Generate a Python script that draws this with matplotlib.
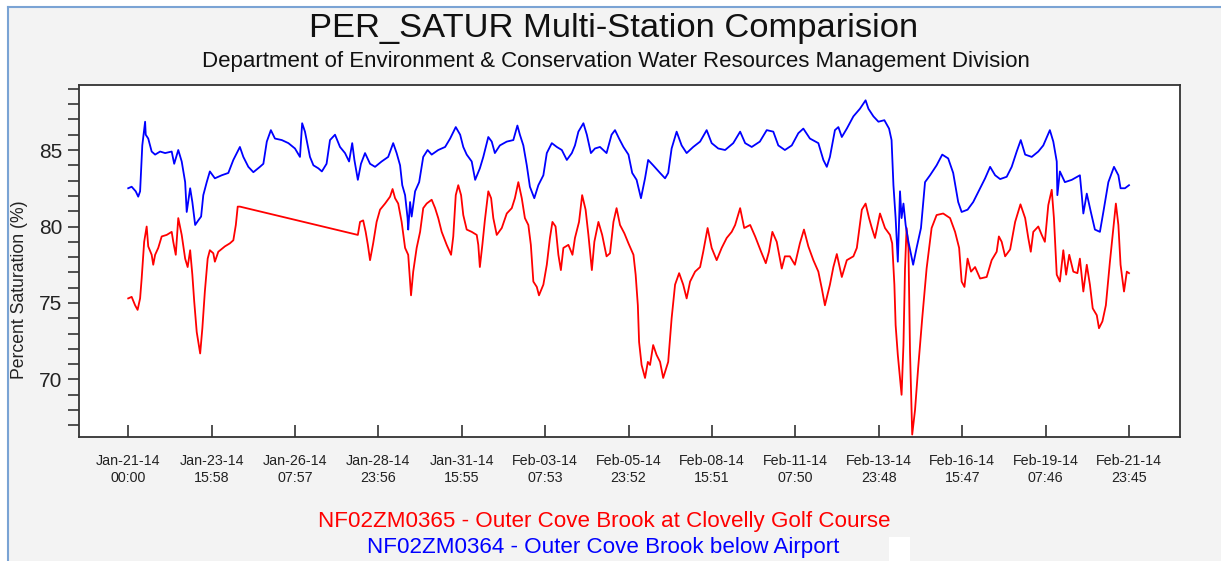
import matplotlib
matplotlib.use("Agg")
import matplotlib.pyplot as plt
from matplotlib.patches import Rectangle
from matplotlib.lines import Line2D
from matplotlib.ticker import MultipleLocator, FixedLocator

# ---------------- data (days since Jan-21-14 00:00, % saturation) ----------------
red_days = [0.00, 0.11, 0.22, 0.30, 0.38, 0.43, 0.51, 0.59, 0.64, 0.75, 0.80, 0.86, 0.96, 1.07, 1.23,
            1.39, 1.44, 1.52, 1.60, 1.71, 1.82, 1.90, 1.98, 2.05, 2.11, 2.19, 2.30, 2.37, 2.45, 2.54,
            2.61, 2.72, 2.77, 2.88, 3.09, 3.25, 3.36, 3.44, 3.50, 3.57,
            7.34, 7.41, 7.51, 7.59, 7.66, 7.73, 7.83, 7.94, 8.05, 8.21, 8.37, 8.45, 8.53, 8.63, 8.74,
            8.85, 8.95, 9.04, 9.11, 9.22, 9.33, 9.43, 9.54, 9.70, 9.81, 9.91, 10.02, 10.18, 10.32,
            10.39, 10.47, 10.55, 10.64, 10.71, 10.82, 10.98, 11.14, 11.19, 11.24, 11.32, 11.40,
            11.51, 11.60, 11.67, 11.78, 11.94, 12.10, 12.26, 12.36, 12.47, 12.58, 12.68, 12.79,
            12.87, 12.95, 13.06, 13.13, 13.27, 13.38, 13.48, 13.56, 13.66, 13.75, 13.83, 13.91,
            14.07, 14.20, 14.28, 14.41, 14.51, 14.62, 14.71, 14.82, 14.90, 15.03, 15.15, 15.29,
            15.40, 15.51, 15.61, 15.72, 15.86, 15.99, 16.15, 16.22, 16.29, 16.33, 16.41, 16.52,
            16.61, 16.68, 16.78, 16.89, 17.00, 17.10, 17.26, 17.37, 17.48, 17.61, 17.74, 17.85,
            17.96, 18.12, 18.28, 18.38, 18.52, 18.65, 18.81, 18.97, 19.13, 19.29, 19.40, 19.56,
            19.69, 19.88, 20.04, 20.23, 20.38, 20.48, 20.59, 20.73, 20.89, 20.99, 21.15, 21.31,
            21.47, 21.60, 21.74, 21.90, 22.06, 22.17, 22.27, 22.43, 22.54, 22.65, 22.81, 22.97,
            23.18, 23.29, 23.45, 23.57, 23.68, 23.77, 23.87, 24.03, 24.19, 24.35, 24.42, 24.49,
            24.53, 24.60, 24.72, 24.78, 24.83, 24.88, 24.94, 24.99, 25.06, 25.15, 25.25, 25.38,
            25.52, 25.68, 25.84, 26.05, 26.27, 26.43, 26.56, 26.64, 26.73, 26.83, 26.94, 27.07,
            27.23, 27.44, 27.60, 27.76, 27.83, 27.92, 28.03, 28.19, 28.35, 28.52, 28.67, 28.77,
            28.85, 28.93, 29.09, 29.20, 29.30, 29.41, 29.52, 29.59, 29.68, 29.78, 29.89, 29.98,
            30.08, 30.21, 30.34, 30.42, 30.53, 30.64, 30.74, 30.83, 30.96, 31.03, 31.14, 31.25,
            31.38, 31.49, 31.57, 31.65, 31.72, 31.83, 31.92, 31.99]
red_vals = [75.3, 75.4, 74.85, 74.55, 75.3, 76.6, 79.0, 80.0, 78.7, 78.15, 77.5, 78.15, 78.6, 79.35, 79.45,
            79.65, 79.0, 78.15, 80.55, 79.45, 77.9, 77.35, 78.45, 76.85, 75.1, 73.1, 71.7, 73.35, 75.75, 77.9,
            78.45, 78.25, 77.7, 78.35, 78.7, 78.9, 79.1, 80.1, 81.3, 81.3,
            79.45, 80.3, 80.4, 79.65, 78.8, 77.8, 78.9, 80.3, 81.1, 81.5, 81.95, 82.45, 81.85, 81.5, 80.3,
            78.6, 78.15, 75.5, 77.05, 78.6, 79.65, 81.2, 81.5, 81.75, 81.2, 80.55, 79.65, 78.8, 78.15,
            79.35, 82.05, 82.7, 82.05, 80.75, 79.8, 79.65, 79.45, 78.8, 77.35, 78.8, 80.4,
            82.3, 81.85, 80.55, 79.45, 79.9, 80.85, 81.2, 81.85, 82.9, 81.85, 80.55, 80.1,
            78.8, 76.4, 76.05, 75.5, 76.2, 77.5, 79.25, 80.3, 80.0, 78.15, 77.15, 78.6,
            78.8, 78.15, 79.25, 80.3, 82.05, 81.1, 79.45, 77.15, 79.0, 80.3, 79.45, 78.05,
            78.25, 80.3, 81.2, 80.1, 79.55, 78.9, 78.15, 76.85, 74.85, 72.45, 70.95, 70.1,
            71.15, 70.95, 72.25, 71.6, 71.15, 70.1, 71.15, 74.0, 76.2, 76.95, 76.2, 75.3,
            76.4, 77.05, 77.35, 78.35, 79.9, 78.6, 77.8, 78.6, 79.25, 79.65, 80.1, 81.2,
            79.9, 80.1, 79.35, 78.35, 77.6, 78.35, 79.65, 79.0, 77.25, 78.05, 78.05, 77.5,
            78.9, 79.8, 78.7, 77.8, 77.05, 75.95, 74.85, 76.2, 77.35, 78.2, 76.7, 77.8,
            78.05, 78.6, 81.1, 81.5, 80.55, 79.9, 79.25, 80.85, 79.9, 79.45, 78.9, 76.2,
            73.55, 71.6, 69.0, 72.25, 77.25, 79.9, 78.6, 71.8, 66.4, 68.0, 70.75, 74.0,
            77.25, 79.9, 80.75, 80.85, 80.55, 79.65, 78.6, 76.4, 76.05, 77.9, 77.05, 77.35,
            76.6, 76.7, 77.8, 78.35, 79.35, 79.0, 78.05, 78.5, 80.3, 81.45, 80.55, 79.25,
            78.35, 79.65, 80.0, 79.45, 79.0, 81.4, 82.4, 80.55, 76.85, 76.4, 78.45, 76.85,
            78.15, 77.05, 76.95, 77.9, 75.75, 77.5, 76.2, 74.65, 74.2, 73.35, 73.8, 74.85,
            77.7, 79.9, 81.5, 80.1, 77.5, 75.75, 77.05, 76.95]

blue_days = [0.00, 0.11, 0.24, 0.32, 0.38, 0.41, 0.45, 0.54, 0.56, 0.64, 0.75, 0.86, 1.02, 1.18, 1.39,
             1.47, 1.60, 1.71, 1.82, 1.87, 1.98, 2.05, 2.14, 2.24, 2.33, 2.40, 2.51, 2.61, 2.77, 2.99,
             3.20, 3.36, 3.47, 3.57, 3.68, 3.84, 4.00, 4.21, 4.32, 4.43, 4.56, 4.69, 4.91, 5.12, 5.33,
             5.49, 5.56, 5.65, 5.81, 5.92, 6.08, 6.19, 6.34, 6.45, 6.61, 6.77, 6.93, 7.06, 7.16, 7.23,
             7.34, 7.44, 7.57, 7.73, 7.89, 8.10, 8.31, 8.47, 8.58, 8.69, 8.76, 8.85, 8.93, 8.95, 9.01,
             9.06, 9.17, 9.30, 9.43, 9.57, 9.70, 9.91, 10.13, 10.29, 10.47, 10.61, 10.71, 10.82, 10.98,
             11.09, 11.24, 11.35, 11.51, 11.62, 11.72, 11.88, 12.10, 12.31, 12.44, 12.52, 12.63, 12.74,
             12.84, 12.98, 13.11, 13.27, 13.38, 13.54, 13.70, 13.86, 14.02, 14.18, 14.28, 14.39, 14.55,
             14.66, 14.79, 14.92, 15.08, 15.29, 15.45, 15.56, 15.69, 15.83, 15.99, 16.11, 16.25, 16.39,
             16.52, 16.62, 16.78, 17.00, 17.16, 17.26, 17.37, 17.53, 17.69, 17.85, 18.06, 18.28, 18.49,
             18.65, 18.86, 19.08, 19.34, 19.56, 19.72, 19.93, 20.19, 20.41, 20.62, 20.78, 20.99, 21.21,
             21.42, 21.58, 21.79, 22.06, 22.22, 22.33, 22.43, 22.59, 22.70, 22.81, 22.97, 23.18, 23.39,
             23.57, 23.66, 23.82, 23.98, 24.17, 24.32, 24.40, 24.46, 24.53, 24.60, 24.67, 24.72, 24.78,
             24.85, 24.94, 25.09, 25.20, 25.34, 25.47, 25.63, 25.84, 26.02, 26.21, 26.37, 26.53, 26.64,
             26.83, 27.01, 27.23, 27.39, 27.55, 27.71, 27.87, 28.08, 28.24, 28.40, 28.53, 28.67, 28.88,
             29.09, 29.25, 29.46, 29.57, 29.68, 29.70, 29.78, 29.94, 30.16, 30.42, 30.48, 30.53, 30.64,
             30.77, 30.90, 31.06, 31.17, 31.33, 31.51, 31.65, 31.72, 31.86, 31.99]
blue_vals = [82.5, 82.6, 82.3, 81.95, 82.3, 83.6, 85.3, 86.85, 86.0, 85.75, 84.9, 84.7, 84.9, 84.8, 84.9,
             84.1, 85.0, 84.25, 82.9, 80.95, 82.5, 81.6, 80.1, 80.4, 80.65, 82.05, 82.9, 83.6, 83.15, 83.35,
             83.5, 84.35, 84.8, 85.2, 84.55, 83.9, 83.55, 83.9, 84.1, 85.55, 86.3, 85.75, 85.65, 85.45, 85.1,
             84.55, 86.75, 86.2, 84.55, 84.0, 83.8, 83.6, 84.1, 85.65, 86.0, 85.2, 84.8, 84.25, 85.45, 84.35,
             83.05, 84.1, 84.8, 84.1, 83.9, 84.25, 84.55, 85.45, 84.8, 84.0, 82.7, 82.05, 80.55, 79.8, 81.6,
             80.65, 82.3, 82.9, 84.55, 85.0, 84.7, 85.0, 85.2, 85.75, 86.5, 86.0, 85.2, 84.7, 84.25,
             83.05, 83.8, 84.55, 85.85, 85.55, 84.8, 85.3, 85.55, 85.65, 86.6, 86.0, 85.3, 84.0,
             82.6, 81.85, 82.7, 83.35, 84.8, 85.45, 85.2, 85.0, 84.35, 84.8, 85.3, 86.2, 86.75,
             86.0, 84.8, 85.1, 85.2, 84.8, 86.0, 86.3, 85.75, 85.2, 84.7, 83.5, 83.05, 81.85,
             83.15, 84.35, 84.0, 83.5, 83.15, 83.5, 85.1, 86.2, 85.3, 84.8, 85.2, 85.55, 86.3,
             85.45, 85.1, 85.0, 85.45, 86.2, 85.45, 85.2, 85.55, 86.3, 86.2, 85.3, 85.0, 85.3,
             86.1, 86.4, 85.75, 85.45, 84.35, 83.9, 84.55, 86.3, 86.5, 85.85, 86.4, 87.2, 87.7,
             88.25, 87.7, 87.2, 86.85, 86.95, 86.4, 85.65, 82.7, 80.55, 77.7, 82.3, 80.55, 81.5,
             80.1, 79.0, 77.5, 78.6, 79.9, 82.9, 83.35, 84.0, 84.7, 84.45, 83.5, 81.6, 80.95,
             81.1, 81.6, 82.5, 83.15, 83.9, 83.35, 83.1, 83.25, 83.9, 84.9, 85.65, 84.7, 84.55,
             84.9, 85.3, 86.3, 85.55, 84.25, 82.05, 83.6, 82.9, 83.05, 83.35, 82.05, 80.85, 82.15,
             80.95, 79.8, 79.65, 80.95, 82.9, 83.9, 83.35, 82.5, 82.5, 82.7]

x_tick_labels = ["Jan-21-14\n00:00", "Jan-23-14\n15:58", "Jan-26-14\n07:57", "Jan-28-14\n23:56",
                 "Jan-31-14\n15:55", "Feb-03-14\n07:53", "Feb-05-14\n23:52", "Feb-08-14\n15:51",
                 "Feb-11-14\n07:50", "Feb-13-14\n23:48", "Feb-16-14\n15:47", "Feb-19-14\n07:46",
                 "Feb-21-14\n23:45"]
span_days = 31.9896  # Jan-21-14 00:00 -> Feb-21-14 23:45
y_major = [70, 75, 80, 85]

title = "PER_SATUR Multi-Station Comparision"
subtitle = "Department of Environment & Conservation Water Resources Management Division"
red_name = "NF02ZM0365 - Outer Cove Brook at Clovelly Golf Course"
blue_name = "NF02ZM0364 - Outer Cove Brook below Airport"

# ---------------- figure ----------------
plt.rcParams['font.family'] = ['Liberation Sans', 'DejaVu Sans']
W, H = 1221, 561
fig = plt.figure(figsize=(W / 100, H / 100), dpi=100)
fig.patch.set_facecolor("white")

# panel background with blue border (top & left)
fig.patches.append(Rectangle((8 / W, 0), 1 - 8 / W, 1 - 7 / H, transform=fig.transFigure,
                             facecolor="#f3f3f3", edgecolor="none", zorder=-10))
fig.lines.append(Line2D([8 / W, 1], [1 - 7 / H, 1 - 7 / H], transform=fig.transFigure,
                        color="#7aa3d4", lw=1.5))
fig.lines.append(Line2D([8 / W, 8 / W], [0, 1 - 7 / H], transform=fig.transFigure,
                        color="#7aa3d4", lw=1.5))

ax = fig.add_axes([79 / W, 1 - 437 / H, (1179.6 - 79) / W, (437 - 85) / H])
ax.set_facecolor("white")
ax.plot(red_days, red_vals, color="#ff0000", lw=1.3)
ax.plot(blue_days, blue_vals, color="#0000ff", lw=1.3)

n = len(x_tick_labels) - 1
xticks = [span_days * k / n for k in range(n + 1)]
ax.set_xlim(-1.573, 33.607)
ax.set_ylim(66.24, 89.25)
ax.xaxis.set_major_locator(FixedLocator(xticks))
ax.set_xticklabels(x_tick_labels, fontsize=10.3, color="#222222", linespacing=1.3)
ax.yaxis.set_major_locator(FixedLocator(y_major))
ax.yaxis.set_minor_locator(MultipleLocator(1))
ax.set_yticklabels([str(v) for v in y_major], fontsize=15, color="#222222")
ax.tick_params(axis="x", direction="in", length=9, width=1.2, color="#333333", pad=12)
ax.tick_params(axis="y", which="both", direction="out", length=8, width=1.2, color="#333333", pad=4)
for s in ax.spines.values():
    s.set_color("#333333")
    s.set_linewidth(1.3)

fig.text(20 / W, 1 - 290 / H, "Percent Saturation (%)", rotation=90, ha="center", va="center",
         fontsize=12.7, color="#222222")
fig.text(614 / W, 1 - 28 / H, title, ha="center", va="center", fontsize=24.8, color="#111111")
fig.text(616 / W, 1 - 61 / H, subtitle, ha="center", va="center", fontsize=16, color="#111111")
fig.text(604 / W, 1 - 521 / H, red_name, ha="center", va="center", fontsize=16.1, color="#ff0000")
fig.text(603 / W, 1 - 548 / H, blue_name, ha="center", va="center", fontsize=16.1, color="#0000ff")
fig.patches.append(Rectangle((889 / W, 0), 21 / W, 24 / H, transform=fig.transFigure,
                             facecolor="white", edgecolor="none"))

fig.savefig("out.png", dpi=100)
